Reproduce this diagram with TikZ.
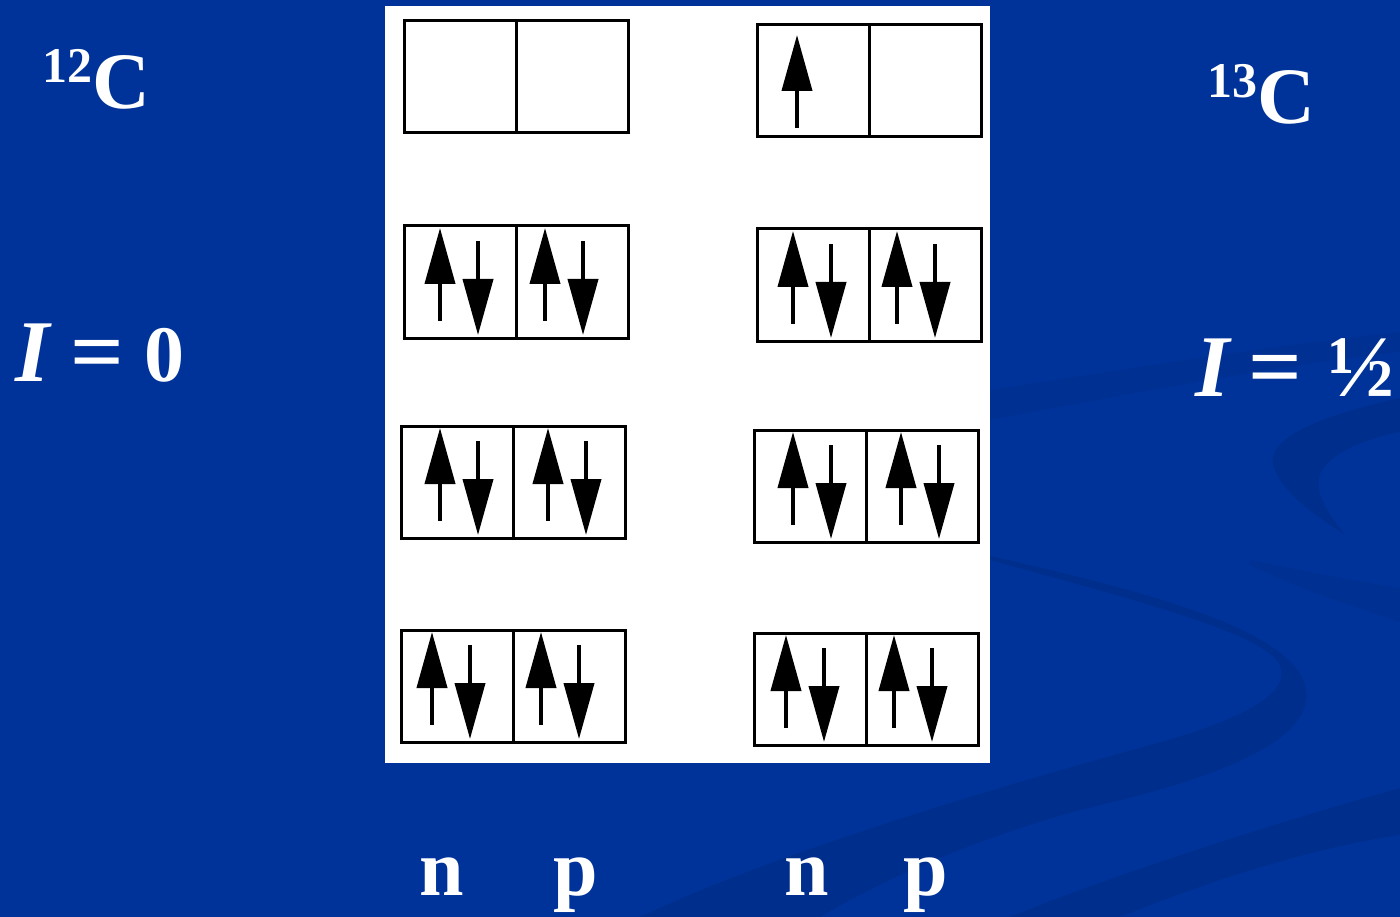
\documentclass[tikz,border=0pt]{standalone}
\usepackage{fontspec}
\setmainfont{Liberation Serif}
\usetikzlibrary{arrows.meta}
\definecolor{bg}{RGB}{0,51,153}
\definecolor{swirl}{RGB}{0,46,140}
\definecolor{swirlb}{RGB}{0,48,146}
\newcommand\cellpair[3]{%
  \node[cell,anchor=north west] (#1n) at (#2,#3) {};
  \node[cell,anchor=north west] (#1p) at (#2+112,#3) {};}
\newcommand\spinpair[2]{%
  \draw[spinarrow] ([xshift=#2pt,yshift=-95pt]#1.north west) -- ([xshift=#2pt,yshift=-2pt]#1.north west);
  \draw[spinarrow] ([xshift=#2pt+38pt,yshift=-15pt]#1.north west) -- ([xshift=#2pt+38pt,yshift=-109pt]#1.north west);}
\begin{document}
\begin{tikzpicture}[x=1pt,y=-1pt,
  cell/.style={draw=black,line width=3pt,fill=white,minimum width=112pt,minimum height=112pt,inner sep=0pt,outer sep=0pt},
  spinarrow/.style={line width=4pt,-{Triangle[length=56pt,width=30pt]}},
  lbl/.style={text=white,font=\bfseries\fontsize{80}{80}\selectfont,inner sep=0pt,outer sep=0pt,anchor=base west}]
\useasboundingbox (0,0) rectangle (1400,917);
\fill[bg] (0,0) rectangle (1400,917);
% background swirls
\fill[swirlb] (990,390) .. controls (1150,365) and (1300,342) .. (1400,332) -- (1400,352) .. controls (1300,362) and (1150,390) .. (990,420) -- cycle;
\fill[swirl] (1400,398) .. controls (1300,420) and (1262,445) .. (1275,470) .. controls (1285,495) and (1315,515) .. (1345,535) .. controls (1325,510) and (1312,488) .. (1322,470) .. controls (1335,450) and (1370,438) .. (1400,432) -- cycle;
\fill[swirlb] (1250,560) .. controls (1300,570) and (1350,580) .. (1400,588) -- (1400,622) .. controls (1350,605) and (1300,590) .. (1250,565) -- cycle;
\fill[swirl] (990,556) .. controls (1150,592) and (1290,630) .. (1305,685) .. controls (1318,730) and (1250,770) .. (1100,805) .. controls (1000,830) and (900,870) .. (820,917) -- (640,917) .. controls (760,860) and (950,800) .. (1150,745) .. controls (1250,718) and (1295,690) .. (1278,662) .. controls (1255,632) and (1150,604) .. (990,560) -- cycle;
\fill[swirl] (1400,788) .. controls (1250,830) and (1100,880) .. (1010,917) -- (1120,917) .. controls (1200,885) and (1300,850) .. (1400,835) -- cycle;
% white panel
\node[fill=white,minimum width=605pt,minimum height=757pt,inner sep=0pt,outer sep=0pt,anchor=north west] (panel) at (385,6) {};
% orbitals
\cellpair{L1}{404}{21}
\cellpair{L2}{404}{226}
\cellpair{L3}{401}{426}
\cellpair{L4}{401}{630}
\cellpair{R1}{757}{25}
\cellpair{R2}{757}{229}
\cellpair{R3}{754}{430}
\cellpair{R4}{754}{633}
% spins
\spinpair{L2n}{36}\spinpair{L2p}{29}
\spinpair{L3n}{39}\spinpair{L3p}{35}
\spinpair{L4n}{31}\spinpair{L4p}{28}
\spinpair{R2n}{36}\spinpair{R2p}{28}
\spinpair{R3n}{39}\spinpair{R3p}{35}
\spinpair{R4n}{32}\spinpair{R4p}{28}
\draw[spinarrow] ([xshift=40pt,yshift=-103pt]R1n.north west) -- ([xshift=40pt,yshift=-10pt]R1n.north west);
% labels
\node[lbl] (c12) at (42,109) {\raisebox{26pt}{\fontsize{50}{50}\selectfont 12}C};
\node[lbl] (c13) at (1207,124) {\raisebox{26pt}{\fontsize{50}{50}\selectfont 13}C};
\node[lbl] (i0) at (15,381) {\rlap{\scalebox{1.1}{\textit{I}}}\hspace{55pt}\rlap{\scalebox{1.18}[1.1]{=}}\hspace{75pt}0};
\node[lbl] (ihalf) at (1195,396) {\rlap{\scalebox{1.1}{\textit{I}}}\hspace{53pt}\rlap{\scalebox{1.18}[1.1]{=}}\hspace{80pt}\scalebox{1.1}{½}};
\node[lbl] (n1) at (419,895) {n};
\node[lbl] (p1) at (553,895) {p};
\node[lbl] (n2) at (784,895) {n};
\node[lbl] (p2) at (903,895) {p};
\end{tikzpicture}
\end{document}
